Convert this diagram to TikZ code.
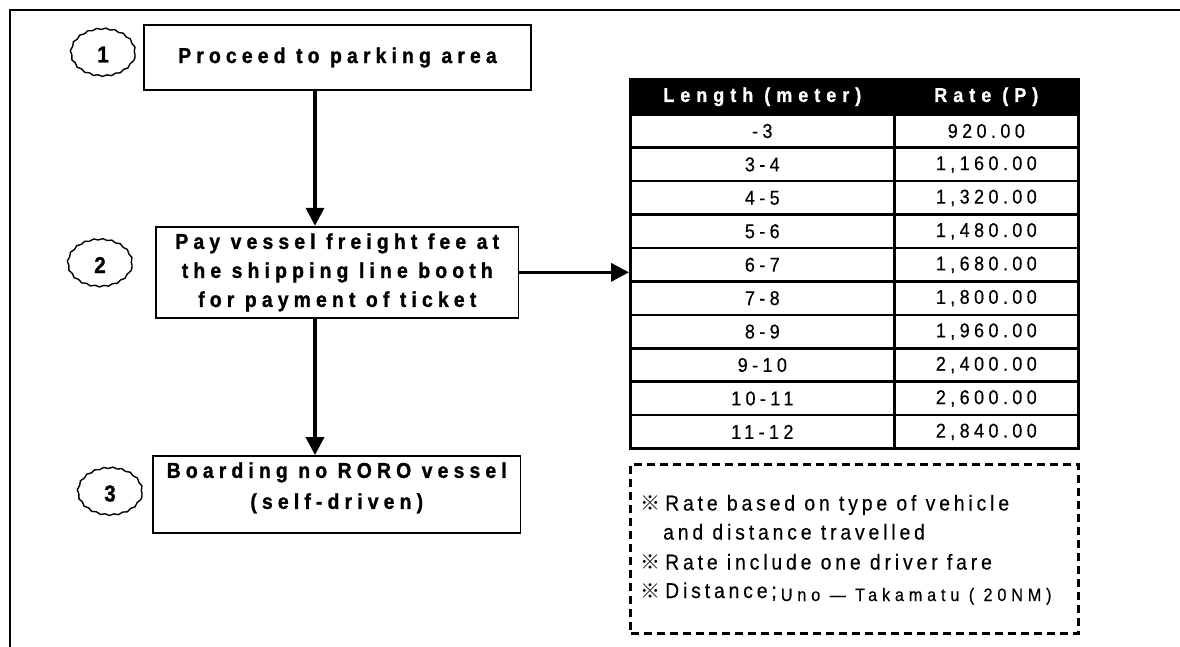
\documentclass[tikz,border=0pt]{standalone}
\usepackage{fontspec}
\setmainfont{Liberation Sans}
\newfontfamily\boxfont[LetterSpace=24,FakeStretch=0.9,BoldFeatures={FakeBold=1.2}]{Liberation Sans}
\newfontfamily\cellfont[LetterSpace=22,FakeStretch=0.9,FakeBold=0.4]{Liberation Sans}
\newfontfamily\headfont[LetterSpace=30,FakeStretch=0.9,BoldFeatures={FakeBold=1}]{Liberation Sans}
\newfontfamily\notefont[LetterSpace=18,FakeStretch=0.9,FakeBold=0.4]{Liberation Sans}
\newfontfamily\smallnotefont[LetterSpace=27,FakeStretch=0.9,FakeBold=0.4]{Liberation Sans}
\newfontfamily\digitfont[FakeStretch=0.9,BoldFeatures={FakeBold=1.2}]{Liberation Sans}
\newfontfamily\markfont{Noto Sans CJK JP}
\usetikzlibrary{arrows.meta,decorations.pathmorphing,shapes.geometric,calc}

\begin{document}
\begin{tikzpicture}[x=1pt,y=-1pt,
  stepbox/.style={draw, line width=1.8pt, inner sep=0pt, align=center,
    font=\boxfont\bfseries\fontsize{21.5}{29}\selectfont},
  badge/.style={shape=ellipse, draw, line width=1.4pt, inner sep=0pt,
    minimum width=64pt, minimum height=47pt,
    decorate, decoration={snake, segment length=9pt, amplitude=0.7pt},
    font=\digitfont\bfseries\fontsize{23}{26}\selectfont},
  conn/.style={line width=3.6pt, -{Triangle[length=18pt,width=18pt]}},
  headcell/.style={draw=black, fill=black, text=white, line width=2.6pt,
    inner sep=0pt, minimum height=35pt, anchor=north west,
    font=\headfont\bfseries\fontsize{20}{22}\selectfont},
  cell/.style={draw, line width=2.6pt, inner sep=0pt, minimum height=33.43pt,
    anchor=north west, font=\cellfont\fontsize{20}{22}\selectfont},
  notebox/.style={draw, line width=3pt, dash pattern=on 8pt off 5pt,
    inner sep=0pt, anchor=north west},
  noteline/.style={inner sep=0pt, anchor=base west,
    font=\notefont\fontsize{21.5}{24}\selectfont}
]
\useasboundingbox (0,0) rectangle (1180,646);
\clip (0,0) rectangle (1180,646);

% outer frame (top and left edges)
\draw[line width=2.2pt] (10,660) -- (10,10) -- (1190,10);

% flow steps
\node[stepbox, minimum width=387pt, minimum height=65pt] (box1) at (337.5,57.5)
  {Proceed to parking area};
\node[stepbox, minimum width=362.5pt, minimum height=91.3pt] (box2) at (337.25,272.35)
  {Pay vessel freight fee at\\the shipping line booth\\for payment of ticket};
\node[stepbox, minimum width=367.5pt, minimum height=77.3pt] (box3) at (336.75,494.65) {};
\node[inner sep=0pt, align=center, anchor=north,
  font=\boxfont\bfseries\fontsize{21.5}{31}\selectfont] (box3text) at ($(box3.north)+(0,7)$)
  {Boarding no RORO vessel\\(self-driven)};

% step numbers
\node[badge] (c1) at (103,54.5) {1};
\node[badge] (c2) at (100,265) {2};
\node[badge] (c3) at (110,493.5) {3};

% connectors
\coordinate (ax) at (315,0);
\draw[conn] (box1.south -| ax) -- (box2.north -| ax);
\draw[conn] (box2.south -| ax) -- (box3.north -| ax);

% rate table
\node[headcell, minimum width=264pt] (hL) at (629,78) {Length (meter)};
\node[headcell, minimum width=184pt] (hR) at (893,78) {Rate (P)};
\foreach \len/\rate [count=\i] in {-3/920.00, 3-4/{1,160.00}, 4-5/{1,320.00},
    5-6/{1,480.00}, 6-7/{1,680.00}, 7-8/{1,800.00}, 8-9/{1,960.00},
    9-10/{2,400.00}, 10-11/{2,600.00}, 11-12/{2,840.00}}{
  \node[cell, minimum width=264pt] (l\i) at (629,{113+(\i-1)*33.43}) {\len};
  \node[cell, minimum width=184pt] (r\i) at (893,{113+(\i-1)*33.43}) {\rate};
}

\draw[conn] (box2.east) -- (box2.east -| hL.west);

% notes
\node[notebox, minimum width=448pt, minimum height=168.4pt] (note) at (629,463.3) {};
\node[noteline] (n1) at (640,510.5)
  {{\markfont\fontsize{20}{22}\selectfont ※}\hspace{5pt}Rate based on type of vehicle};
\node[noteline] (n2) at (663,539.5) {and distance travelled};
\node[noteline] (n3) at (640,569.5)
  {{\markfont\fontsize{20}{22}\selectfont ※}\hspace{5pt}Rate include one driver fare};
\node[noteline] (n4) at (640,598)
  {{\markfont\fontsize{20}{22}\selectfont ※}\hspace{5pt}Distance;\hspace{4pt}\raisebox{-3pt}{\smallnotefont\fontsize{18}{20}\selectfont Uno — Takamatu ( 20NM)}};
\end{tikzpicture}
\end{document}
